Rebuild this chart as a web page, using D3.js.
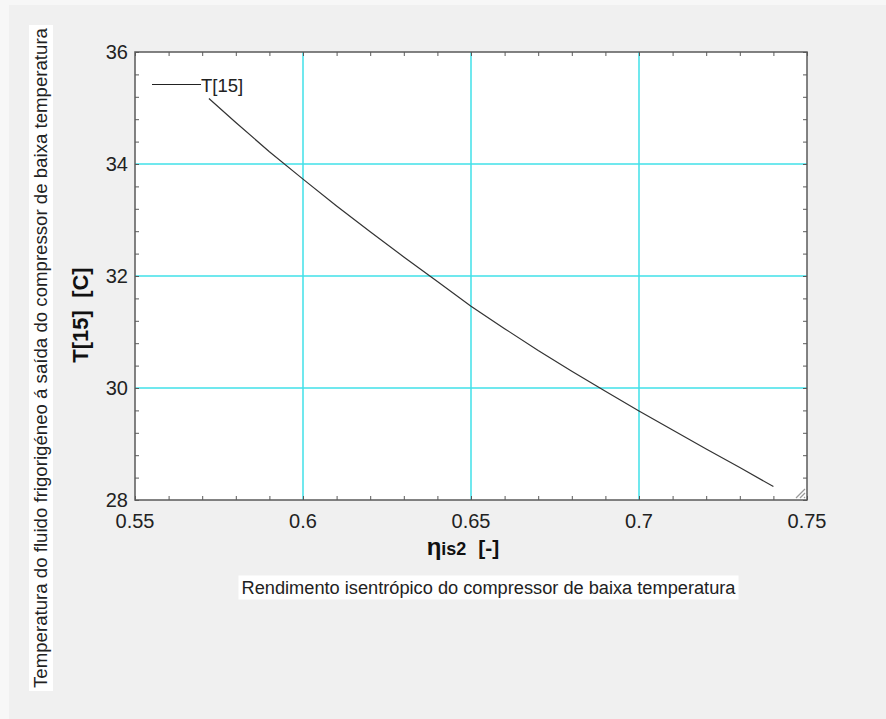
<!DOCTYPE html>
<html>
<head>
<meta charset="utf-8">
<script src="https://cdn.jsdelivr.net/npm/d3@7/dist/d3.min.js"></script>
<style>
  html, body { margin: 0; padding: 0; background: #f0f0f0; }
  svg { display: block; }
</style>
</head>
<body>
<svg id="chart" width="886" height="719"></svg>
<script>
// Compressor isentropic efficiency vs. refrigerant outlet temperature T[15]
const eta = [0.572, 0.58, 0.59, 0.60, 0.61, 0.62, 0.63, 0.64, 0.65, 0.66, 0.67, 0.68, 0.69, 0.70, 0.71, 0.72, 0.73, 0.74];
const t15 = [35.17, 34.74, 34.22, 33.73, 33.25, 32.79, 32.34, 31.90, 31.46, 31.06, 30.67, 30.30, 29.94, 29.59, 29.25, 28.91, 28.58, 28.24];
const xTicks = [0.55, 0.6, 0.65, 0.7, 0.75];
const yTicks = [28, 30, 32, 34, 36];
const seriesName = "T[15]";
const yTitle = "T[15]  [C]";
const xTitleSymbol = "η";
const xTitleSub = "is2";
const xTitleUnit = "[-]";
const xDesc = "Rendimento isentrópico do compressor de baixa temperatura";
const yDesc = "Temperatura do fluido frigorigéneo á saída do compressor de baixa temperatura";

const svg = d3.select("#chart");
const W = 886, H = 719;
const plot = { left: 135, right: 807, top: 52, bottom: 500 };

// window frame: lighter strips along the top and left edges
svg.append("rect").attr("x", 0).attr("y", 0).attr("width", W).attr("height", 5).attr("fill", "#f7f7f7");
svg.append("rect").attr("x", 0).attr("y", 0).attr("width", 9).attr("height", H).attr("fill", "#f7f7f7");

const x = d3.scaleLinear().domain([0.55, 0.75]).range([plot.left, plot.right]);
const y = d3.scaleLinear().domain([28, 36]).range([plot.bottom, plot.top]);

// plot background
svg.append("rect")
  .attr("x", plot.left).attr("y", plot.top)
  .attr("width", plot.right - plot.left).attr("height", plot.bottom - plot.top)
  .attr("fill", "#ffffff");

// grid lines
const grid = svg.append("g").attr("stroke", "#40e0e8").attr("stroke-width", 1.5);
xTicks.slice(1, -1).forEach(v => {
  grid.append("line").attr("x1", x(v)).attr("x2", x(v)).attr("y1", plot.top).attr("y2", plot.bottom);
});
yTicks.slice(1, -1).forEach(v => {
  grid.append("line").attr("x1", plot.left).attr("x2", plot.right).attr("y1", y(v)).attr("y2", y(v));
});

// inward tick marks on all four sides
const minorX = d3.range(0, 21).map(i => 0.55 + i * 0.01);
const minorY = d3.range(0, 21).map(i => 28 + i * 0.4);
const axisColor = "#5a5a5a";
const tickLen = 4;
const axB = svg.append("g").attr("transform", `translate(0,${plot.bottom})`)
  .call(d3.axisBottom(x).tickValues(minorX).tickSize(-tickLen).tickFormat(""));
const axT = svg.append("g").attr("transform", `translate(0,${plot.top})`)
  .call(d3.axisTop(x).tickValues(minorX).tickSize(-tickLen).tickFormat(""));
const axL = svg.append("g").attr("transform", `translate(${plot.left},0)`)
  .call(d3.axisLeft(y).tickValues(minorY).tickSize(-tickLen).tickFormat(""));
const axR = svg.append("g").attr("transform", `translate(${plot.right},0)`)
  .call(d3.axisRight(y).tickValues(minorY).tickSize(-tickLen).tickFormat(""));
[axB, axT, axL, axR].forEach(a => {
  a.selectAll(".domain").remove();
  a.selectAll(".tick line").attr("stroke", axisColor).attr("stroke-width", 1);
});

// plot frame
svg.append("rect")
  .attr("x", plot.left).attr("y", plot.top)
  .attr("width", plot.right - plot.left).attr("height", plot.bottom - plot.top)
  .attr("fill", "none").attr("stroke", axisColor).attr("stroke-width", 1.5);

// tick labels
const font = "Liberation Sans, Arial, sans-serif";
svg.append("g").selectAll("text").data(xTicks).join("text")
  .attr("x", d => x(d)).attr("y", 528)
  .attr("text-anchor", "middle")
  .attr("font-family", font).attr("font-size", 20).attr("fill", "#222")
  .text(d => d3.format("")(d));
svg.append("g").selectAll("text").data(yTicks).join("text")
  .attr("x", 128).attr("y", d => y(d) + 7)
  .attr("text-anchor", "end")
  .attr("font-family", font).attr("font-size", 20).attr("fill", "#222")
  .text(d => d);

// curve
const line = d3.line().x((d, i) => x(eta[i])).y(d => y(d));
svg.append("path").datum(t15)
  .attr("d", line)
  .attr("fill", "none").attr("stroke", "#333").attr("stroke-width", 1.2);

// legend
svg.append("line").attr("x1", 152).attr("x2", 201).attr("y1", 84.5).attr("y2", 84.5)
  .attr("stroke", "#222").attr("stroke-width", 1.2);
svg.append("text").attr("x", 201).attr("y", 92)
  .attr("font-family", font).attr("font-size", 18.5).attr("fill", "#222")
  .text(seriesName);

// resize grip in the corner
const grip = svg.append("g").attr("stroke", "#9a9a9a").attr("stroke-width", 1.2);
[0, 4, 8].forEach(o => {
  grip.append("line")
    .attr("x1", plot.right - 3 - o).attr("y1", plot.bottom - 2)
    .attr("x2", plot.right - 2).attr("y2", plot.bottom - 3 - o);
});

// axis titles
const xt = svg.append("text").attr("x", 463).attr("y", 555)
  .attr("text-anchor", "middle")
  .attr("font-family", font).attr("font-weight", "bold").attr("fill", "#111")
  .style("white-space", "pre");
xt.append("tspan").attr("font-size", 24).text(xTitleSymbol);
xt.append("tspan").attr("font-size", 18).text(xTitleSub);
xt.append("tspan").attr("font-size", 21).attr("dx", 12).text(xTitleUnit);

svg.append("text")
  .attr("transform", "translate(88,315) rotate(-90)")
  .attr("text-anchor", "middle")
  .attr("font-family", font).attr("font-weight", "bold").attr("font-size", 22).attr("fill", "#111")
  .style("white-space", "pre")
  .text(yTitle);

// descriptive labels on white boxes
function boxedLabel(txt, cx, cy, rotate, len) {
  const g = svg.append("g").attr("transform", `translate(${cx},${cy}) rotate(${rotate})`);
  const r = g.append("rect").attr("fill", "#ffffff");
  const t = g.append("text")
    .attr("text-anchor", "middle").attr("dy", "0.35em")
    .attr("font-family", font).attr("font-size", 18).attr("fill", "#222")
    .attr("textLength", len).attr("lengthAdjust", "spacingAndGlyphs")
    .text(txt);
  r.attr("x", -len / 2 - 3).attr("y", -12).attr("width", len + 6).attr("height", 24);
}
boxedLabel(xDesc, 488.5, 587.5, 0, 494);
boxedLabel(yDesc, 41, 358, -90, 660);
</script>
</body>
</html>
